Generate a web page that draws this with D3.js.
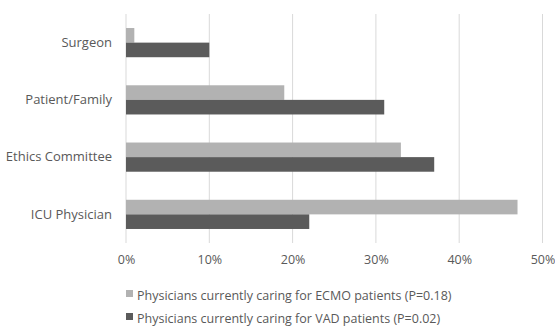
<!DOCTYPE html>
<html>
<head>
<meta charset="utf-8">
<script src="https://cdn.jsdelivr.net/npm/d3@7"></script>
<style>
  html, body { margin: 0; padding: 0; background: #fff; }
  svg { display: block; }
  text { font-family: "Open Sans", "Noto Sans", sans-serif; fill: #595959; }
</style>
</head>
<body>
<svg id="chart" width="555" height="326"></svg>
<script>
// Who initiates the discussion, by physician group
const categories = ["Surgeon", "Patient/Family", "Ethics Committee", "ICU Physician"];
const seriesNames = [
  "Physicians currently caring for ECMO patients (P=0.18)",
  "Physicians currently caring for VAD patients (P=0.02)"
];
const ecmoValues = [1, 19, 33, 47];
const vadValues = [10, 31, 37, 22];
const tickValues = [0, 10, 20, 30, 40, 50];
const seriesColors = ["#b2b2b2", "#5b5b5b"];

const svg = d3.select("#chart");
const plot = { left: 126, right: 542.5, top: 14, bottom: 243 };

const x = d3.scaleLinear().domain([0, 50]).range([plot.left, plot.right]);
const y = d3.scaleBand().domain(categories).range([plot.top, plot.bottom]).paddingInner(0.49).paddingOuter(0.245);
const ySub = d3.scaleBand().domain(seriesNames).range([0, y.bandwidth()]);

// vertical gridlines
svg.append("g").selectAll("line").data(tickValues).join("line")
  .attr("x1", d => x(d)).attr("x2", d => x(d))
  .attr("y1", plot.top).attr("y2", plot.bottom)
  .attr("stroke", "#d9d9d9").attr("stroke-width", 1);

// x axis labels
const xAxis = d3.axisBottom(x).tickValues(tickValues).tickFormat(d => d + "%").tickSize(0).tickPadding(0);
const gx = svg.append("g").attr("transform", `translate(0,${plot.bottom + 13})`).call(xAxis);
gx.select(".domain").remove();
gx.selectAll("text").attr("font-size", 12.5).attr("dy", "0.6em").attr("font-family", null);

// y axis labels
const yAxis = d3.axisLeft(y).tickSize(0).tickPadding(0);
const gy = svg.append("g").attr("transform", `translate(${plot.left - 14},0)`).call(yAxis);
gy.select(".domain").remove();
gy.selectAll("text").attr("font-size", 13).attr("font-family", null);

// bars
const data = categories.map((c, i) => ({ cat: c, vals: [ecmoValues[i], vadValues[i]] }));
const groups = svg.append("g").selectAll("g").data(data).join("g")
  .attr("transform", d => `translate(0,${y(d.cat)})`);
groups.selectAll("rect").data(d => d.vals.map((v, j) => ({ v, s: seriesNames[j], j }))).join("rect")
  .attr("x", x(0))
  .attr("y", d => ySub(d.s))
  .attr("width", d => x(d.v) - x(0))
  .attr("height", ySub.bandwidth())
  .attr("fill", d => seriesColors[d.j]);

// legend (baselines)
const legend = svg.append("g");
const legendRows = [299.5, 322.5];
seriesNames.forEach((name, i) => {
  const row = legend.append("g").attr("transform", `translate(126,${legendRows[i]})`);
  row.append("rect").attr("x", 0).attr("y", -9.5).attr("width", 7).attr("height", 7).attr("fill", seriesColors[i]);
  row.append("text").attr("x", 11).attr("y", 0).attr("font-size", 12.5).text(name);
});
</script>
</body>
</html>
